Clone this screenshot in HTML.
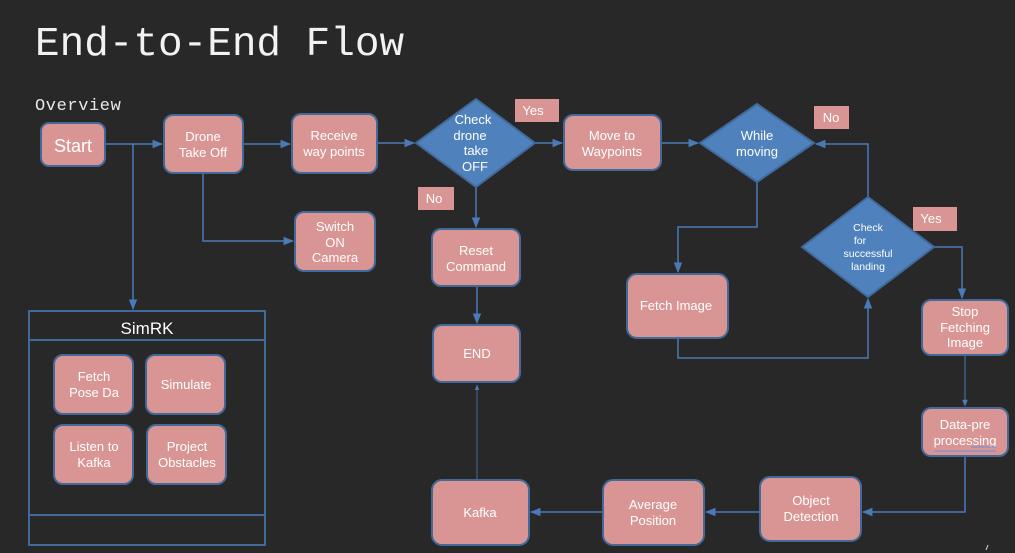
<!DOCTYPE html>
<html><head><meta charset="utf-8"><style>
html,body{margin:0;padding:0;background:#282828;}
svg{display:block}
text{font-family:"Liberation Sans",Arial,sans-serif;fill:#fff;}
</style></head><body>
<svg width="1015" height="553" viewBox="0 0 1015 553" xmlns="http://www.w3.org/2000/svg">
<defs>
<marker id="a" viewBox="0 0 10 10" refX="9" refY="5" markerWidth="7" markerHeight="7" orient="auto"><path d="M0,1 L10,5 L0,9 z" fill="#4a7ab8"/></marker>
</defs>
<rect width="1015" height="553" fill="#282828"/>
<text x="35" y="55" style="font-family:'Liberation Mono',monospace;font-size:41px;fill:#f2f2f2">End-to-End Flow</text>
<text x="35" y="110" style="font-family:'Liberation Mono',monospace;font-size:17px;fill:#e8e8e8;letter-spacing:0.6px">Overview</text>

<g fill="none" stroke="#4a7ab8" stroke-width="1.5">
<path d="M105,144 H162" marker-end="url(#a)"/>
<path d="M133,144 V309" marker-end="url(#a)"/>
<path d="M243,144 H290" marker-end="url(#a)"/>
<path d="M203,173 V241 H293" marker-end="url(#a)"/>
<path d="M377,143 H414" marker-end="url(#a)"/>
<path d="M535,143 H562" marker-end="url(#a)"/>
<path d="M661,143 H698" marker-end="url(#a)"/>
<path d="M476,187 V227" marker-end="url(#a)"/>
<path d="M477,286 V323" marker-end="url(#a)"/>
<path d="M757,182 V227 H678 V272" marker-end="url(#a)"/>
<path d="M678,338 V358 H868 V299" marker-end="url(#a)"/>
<path d="M868,197 V144 H816" marker-end="url(#a)"/>
<path d="M934,247 H962 V298" marker-end="url(#a)"/>
<path d="M965,355 V406" stroke-width="1" marker-end="url(#a)"/>
<path d="M965,456 V512 H863" marker-end="url(#a)"/>
<path d="M760,512 H706" marker-end="url(#a)"/>
<path d="M603,512 H531" marker-end="url(#a)"/>
<path d="M477,480 V385" stroke-width="0.8" marker-end="url(#a)"/>
</g>

<g fill="#d99594" stroke="#41699a" stroke-width="2">
<rect x="41" y="123" width="64" height="43" rx="8"/>
<rect x="164" y="115" width="79" height="58" rx="9"/>
<rect x="292" y="114" width="85" height="59" rx="9"/>
<rect x="295" y="212" width="80" height="59" rx="9"/>
<rect x="432" y="229" width="88" height="57" rx="9"/>
<rect x="433" y="325" width="87" height="57" rx="9"/>
<rect x="564" y="115" width="97" height="55" rx="9"/>
<rect x="627" y="274" width="101" height="64" rx="10"/>
<rect x="922" y="300" width="86" height="55" rx="9"/>
<rect x="922" y="408" width="86" height="48" rx="9"/>
<rect x="760" y="477" width="101" height="64" rx="10"/>
<rect x="603" y="480" width="101" height="65" rx="10"/>
<rect x="432" y="480" width="97" height="65" rx="10"/>
<rect x="54" y="355" width="79" height="59" rx="9"/>
<rect x="146" y="355" width="79" height="59" rx="9"/>
<rect x="54" y="425" width="79" height="59" rx="9"/>
<rect x="147" y="425" width="79" height="59" rx="9"/>
</g>
<g fill="#d99594">
<rect x="515" y="99" width="44" height="23"/>
<rect x="418" y="187" width="36" height="23"/>
<rect x="814" y="106" width="35" height="23"/>
<rect x="913" y="207" width="44" height="24"/>
</g>
<g fill="#4f81bd" stroke="#41699a" stroke-width="2">
<path d="M476,99 L535,143 L476,187 L416,143 Z"/>
<path d="M757,104 L814,143 L757,182 L700,143 Z"/>
<path d="M868,197 L934,247 L868,297 L802,247 Z"/>
</g>
<g fill="none" stroke="#41699a" stroke-width="2">
<rect x="29" y="311" width="236" height="234"/>
<path d="M29,340 H265 M29,515 H265"/>
</g>

<g font-size="13" text-anchor="middle">
<text x="73" y="152" font-size="18">Start</text>
<text x="203" y="141">Drone</text><text x="203" y="157">Take Off</text>
<text x="334" y="140">Receive</text><text x="334" y="156">way points</text>
<text x="335" y="231">Switch</text><text x="335" y="247">ON</text><text x="335" y="262">Camera</text>
<text x="473" y="124">Check</text><text x="470" y="140">drone</text><text x="476" y="155">take</text><text x="475" y="171">OFF</text>
<text x="533" y="115">Yes</text>
<text x="434" y="203">No</text>
<text x="476" y="255">Reset</text><text x="476" y="271">Command</text>
<text x="477" y="358">END</text>
<text x="612" y="140">Move to</text><text x="612" y="156">Waypoints</text>
<text x="757" y="140">While</text><text x="757" y="156">moving</text>
<text x="831" y="122">No</text>
<text x="868" y="231" font-size="10.5">Check</text><text x="860" y="244" font-size="10.5">for</text><text x="868" y="257" font-size="10.5">successful</text><text x="868" y="270" font-size="10.5">landing</text>
<text x="931" y="223">Yes</text>
<text x="676" y="310">Fetch Image</text>
<text x="965" y="316">Stop</text><text x="965" y="332">Fetching</text><text x="965" y="347">Image</text>
<text x="965" y="429">Data-pre</text><text x="965" y="445">processing</text>
<text x="811" y="505">Object</text><text x="811" y="521">Detection</text>
<text x="653" y="509">Average</text><text x="653" y="525">Position</text>
<text x="480" y="517">Kafka</text>
<text x="147" y="334" font-size="17">SimRK</text>
<text x="94" y="381">Fetch</text><text x="94" y="397">Pose Da</text>
<text x="186" y="389">Simulate</text>
<text x="94" y="451">Listen to</text><text x="94" y="467">Kafka</text>
<text x="187" y="451">Project</text><text x="187" y="467">Obstacles</text>
</g>
<path d="M971,447 H996 M934,451 H996" stroke="#6a8fe0" stroke-width="1"/>
<path d="M986,550 L988,545" stroke="#ddd" stroke-width="1"/>
</svg>
</body></html>
